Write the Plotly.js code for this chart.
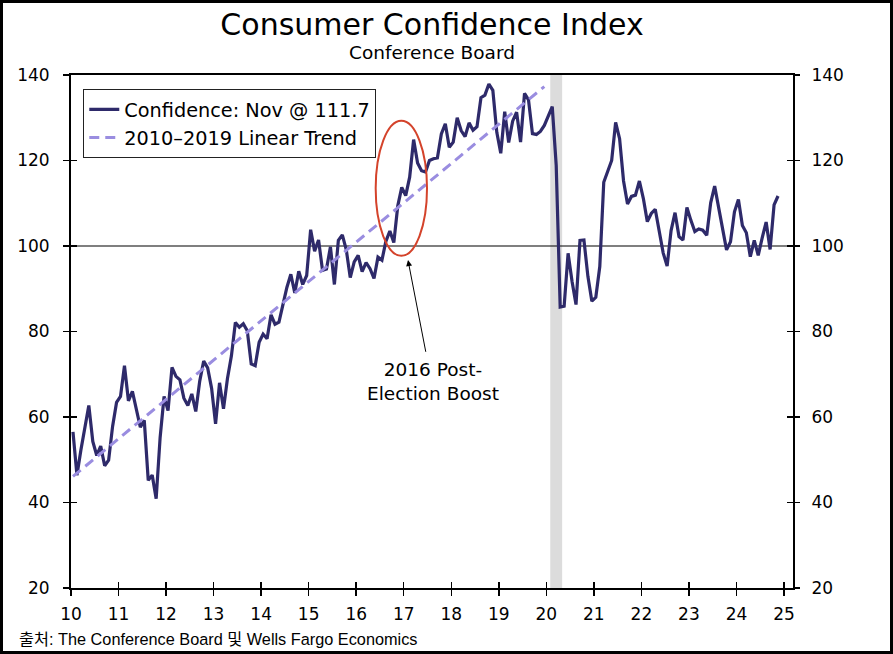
<!DOCTYPE html>
<html>
<head>
<meta charset="utf-8">
<script src="https://cdn.plot.ly/plotly-3.0.1.min.js"></script>
<style>
  html, body { margin: 0; padding: 0; background: #fff; }
  #wrap { position: relative; width: 893px; height: 654px; }
  #chart { width: 893px; height: 654px; }
  #frame { position: absolute; left: 0; top: 0; width: 893px; height: 654px; box-sizing: border-box; border: 3px solid #000; pointer-events: none; }
</style>
</head>
<body>
<div id="wrap"><div id="chart"></div><div id="frame"></div></div>
<script>
// ---- Data: Conference Board Consumer Confidence Index, monthly (Jan 2010 - Nov 2024) ----
const cci2010 = [56.5, 46.4, 52.3, 57.7, 62.7, 54.3, 51.0, 53.2, 48.6, 49.9, 57.8, 63.4];
const cci2011 = [64.8, 72.0, 63.8, 66.0, 61.7, 57.6, 59.2, 45.2, 46.4, 40.9, 55.2, 64.8];
const cci2012 = [61.5, 71.6, 69.5, 68.7, 64.4, 62.7, 65.4, 61.3, 68.4, 73.1, 71.5, 66.7];
const cci2013 = [58.4, 68.0, 61.9, 69.0, 74.3, 82.1, 81.0, 81.8, 80.2, 72.4, 72.0, 77.5];
const cci2014 = [79.4, 78.3, 83.9, 81.7, 82.2, 86.4, 90.3, 93.4, 89.0, 94.1, 91.0, 93.1];
const cci2015 = [103.8, 98.8, 101.4, 94.3, 94.6, 99.8, 91.0, 101.3, 102.6, 99.1, 92.6, 96.3];
const cci2016 = [97.8, 94.0, 96.1, 94.7, 92.4, 97.4, 96.7, 101.1, 103.5, 100.8, 109.4, 113.7];
const cci2017 = [111.8, 116.1, 124.9, 119.4, 117.6, 117.3, 120.0, 120.4, 120.6, 126.2, 128.6, 123.1];
const cci2018 = [124.3, 130.0, 127.0, 125.6, 128.8, 127.1, 127.9, 134.7, 135.3, 137.9, 136.4, 126.6];
const cci2019 = [121.7, 131.4, 124.2, 129.2, 131.3, 124.3, 135.7, 134.2, 126.3, 126.1, 126.8, 128.2];
const cci2020 = [130.4, 132.6, 118.8, 85.7, 85.9, 98.3, 91.7, 86.3, 101.3, 101.4, 92.9, 87.1];
const cci2021 = [88.0, 95.2, 114.9, 117.5, 120.0, 128.9, 125.1, 115.2, 109.8, 111.6, 111.9, 115.2];
const cci2022 = [111.1, 105.7, 107.6, 108.6, 103.2, 98.4, 95.3, 103.6, 107.8, 102.2, 101.4, 109.0];
const cci2023 = [106.0, 103.4, 104.0, 103.7, 102.5, 110.1, 114.0, 108.7, 104.3, 99.1, 101.0, 108.0];
const cci2024 = [110.9, 104.8, 103.1, 97.5, 101.3, 97.8, 101.9, 105.6, 99.2, 109.6, 111.7];

const yearsShort = [10, 11, 12, 13, 14, 15, 16, 17, 18, 19, 20, 21, 22, 23, 24];
const yearlySeries = [cci2010, cci2011, cci2012, cci2013, cci2014, cci2015, cci2016, cci2017,
                      cci2018, cci2019, cci2020, cci2021, cci2022, cci2023, cci2024];

// 2010-2019 linear trend: endpoints (Jan 2010, Dec 2019)
const trendYears = [10, 19];
const trendMonths = [1, 12];
const trendValues = [46.1, 137.3];

// Recession shading (Feb 2020 - Apr 2020)
const recessionStart = [20, 2];
const recessionEnd = [20, 4];

const xTickVals = [10, 11, 12, 13, 14, 15, 16, 17, 18, 19, 20, 21, 22, 23, 24, 25];
const xTickText = ['10', '11', '12', '13', '14', '15', '16', '17', '18', '19', '20', '21', '22', '23', '24', '25'];
const yTickVals = [20, 40, 60, 80, 100, 120, 140];
const yTickText = ['20', '40', '60', '80', '100', '120', '140'];

const legendMain = 'Confidence: Nov @ 111.7';
const legendTrend = '2010\u20132019 Linear Trend';
const titleText = 'Consumer Confidence Index';
const subtitleText = 'Conference Board';
const calloutText = '2016 Post-<br>Election Boost';
const sourceText = '출처: The Conference Board 및 Wells Fargo Economics';

// ---- Build traces ----
const monthPos = (yr, m) => yr + (m - 0.5) / 12;
const xs = [], ys = [];
yearlySeries.forEach((arr, i) => {
  arr.forEach((v, j) => { xs.push(monthPos(yearsShort[i], j + 1)); ys.push(v); });
});
const trendX = trendYears.map((yr, i) => monthPos(yr, trendMonths[i]));

const X_RANGE = [10, 25.19];
const Y_RANGE = [20, 140];
const FONT = 'DejaVu Sans, Verdana, sans-serif';

// empty helper traces so the overlay axes (crossing tick marks, right labels) get drawn
const axisHolder = (xa, ya) => ({ x: [null], y: [null], xaxis: xa, yaxis: ya, type: 'scatter', mode: 'lines',
  showlegend: false, hoverinfo: 'skip' });

const traces = [
  { x: xs, y: ys, type: 'scatter', mode: 'lines', name: legendMain,
    line: { color: '#2e2a6a', width: 3.2 }, hoverinfo: 'skip' },
  { x: trendX, y: trendValues, type: 'scatter', mode: 'lines', name: legendTrend,
    line: { color: '#9a8de0', width: 3, dash: '10px,6px' }, hoverinfo: 'skip' },
  axisHolder('x2', 'y'),
  axisHolder('x', 'y2'),
  axisHolder('x', 'y3'),
  axisHolder('x', 'y4')
];

const axCommon = { showgrid: false, zeroline: false, tickcolor: '#000', tickwidth: 1.5, ticklen: 6 };

const layout = {
  width: 893, height: 654,
  margin: { l: 71, r: 100, t: 75, b: 66, pad: 0 },
  paper_bgcolor: '#fff', plot_bgcolor: '#fff',
  font: { family: FONT, size: 17, color: '#000' },
  showlegend: true,
  title: { text: titleText, font: { family: FONT, size: 30, color: '#000' },
           x: 0.5, xref: 'paper', xanchor: 'center', y: 1 - 24 / 654, yref: 'container', yanchor: 'middle' },
  xaxis: Object.assign({}, axCommon, {
    range: X_RANGE, tickmode: 'array', tickvals: xTickVals, ticktext: xTickText,
    ticks: 'outside', showline: true, linecolor: '#000', linewidth: 2, mirror: true,
    ticklabelstandoff: 4, tickfont: { family: FONT, size: 17 }
  }),
  xaxis2: Object.assign({}, axCommon, {
    range: X_RANGE, overlaying: 'x', anchor: 'y', side: 'bottom', tickmode: 'array', tickvals: xTickVals,
    ticks: 'inside', showticklabels: false, showline: false
  }),
  yaxis: Object.assign({}, axCommon, {
    range: Y_RANGE, tickmode: 'array', tickvals: yTickVals, ticktext: yTickText,
    ticks: 'outside', showline: true, linecolor: '#000', linewidth: 2, mirror: true,
    ticklabelstandoff: 10, tickfont: { family: FONT, size: 17 }
  }),
  yaxis2: Object.assign({}, axCommon, {
    range: Y_RANGE, overlaying: 'y', side: 'right', anchor: 'x', tickmode: 'array', tickvals: yTickVals, ticktext: yTickText,
    ticks: 'outside', showline: false, ticklabelstandoff: 8, tickfont: { family: FONT, size: 17 }
  }),
  yaxis3: Object.assign({}, axCommon, {
    range: Y_RANGE, overlaying: 'y', side: 'left', anchor: 'x', tickmode: 'array', tickvals: yTickVals,
    ticks: 'inside', showticklabels: false, showline: false
  }),
  yaxis4: Object.assign({}, axCommon, {
    range: Y_RANGE, overlaying: 'y', side: 'right', anchor: 'x', tickmode: 'array', tickvals: yTickVals,
    ticks: 'inside', showticklabels: false, showline: false
  }),
  legend: {
    x: 0.017, y: 0.972, xanchor: 'left', yanchor: 'top',
    bgcolor: '#fff', bordercolor: '#222', borderwidth: 1,
    font: { family: FONT, size: 19.3, color: '#000' },
    itemwidth: 30, tracegroupgap: 0
  },
  shapes: [
    { type: 'rect', xref: 'x', yref: 'paper',
      x0: monthPos(recessionStart[0], recessionStart[1]) - 0.5 / 12,
      x1: monthPos(recessionEnd[0], recessionEnd[1]) - 0.5 / 12 + 1 / 12,
      y0: 0, y1: 1, fillcolor: '#dcdcdc', line: { width: 0 }, layer: 'below' },
    { type: 'line', xref: 'paper', yref: 'y', x0: 0, x1: 1, y0: 100, y1: 100,
      line: { color: '#000', width: 1.2 }, layer: 'below' },
    { type: 'circle', xref: 'x', yref: 'y', x0: 16.41, x1: 17.49, y0: 97.7, y1: 129.3,
      line: { color: '#d4432b', width: 2 }, layer: 'above' }
  ],
  annotations: [
    { text: subtitleText, xref: 'paper', yref: 'paper', x: 0.5, y: 1.043, xanchor: 'center', yanchor: 'middle',
      showarrow: false, font: { family: FONT, size: 18.5, color: '#000' } },
    { text: '', xref: 'x', yref: 'y', x: 17.09, y: 96.7, axref: 'x', ayref: 'y', ax: 17.47, ay: 74.9,
      showarrow: true, arrowhead: 2, arrowsize: 1.2, arrowwidth: 1, arrowcolor: '#000' },
    { text: calloutText, xref: 'x', yref: 'y', x: 17.61, y: 68.4, xanchor: 'center', yanchor: 'middle',
      showarrow: false, align: 'center', font: { family: FONT, size: 18.5, color: '#000' } },
    { text: sourceText, xref: 'paper', yref: 'paper', x: -0.0748, y: -0.0994, xanchor: 'left', yanchor: 'middle',
      showarrow: false, font: { family: 'Liberation Sans Narrow, Liberation Sans, Noto Sans CJK KR, sans-serif', size: 16.3, color: '#000' } }
  ]
};

Plotly.newPlot('chart', traces, layout, { displayModeBar: false, staticPlot: true });
</script>
</body>
</html>
